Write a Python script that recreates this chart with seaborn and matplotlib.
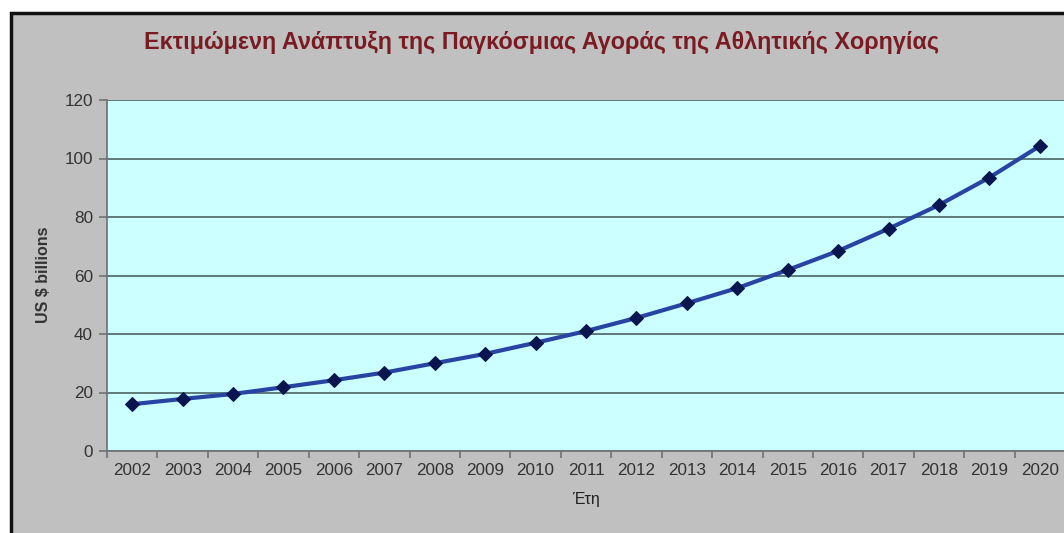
import matplotlib
matplotlib.use("Agg")
import matplotlib.pyplot as plt
import seaborn as sns
import pandas as pd
from matplotlib.patches import Rectangle
from matplotlib.ticker import FixedLocator

years = list(range(2002, 2021))
values = [16.0, 17.8, 19.5, 21.8, 24.2, 26.8, 30.0, 33.2, 37.0, 41.0,
          45.5, 50.5, 55.7, 61.9, 68.4, 76.0, 84.1, 93.5, 104.3]
title = "Εκτιμώμενη Ανάπτυξη της Παγκόσμιας Αγοράς της Αθλητικής Χορηγίας"
xlabel = "Έτη"
ylabel = "US $ billions"

df = pd.DataFrame({"year": years, "value": values})

sns.set_theme(style="white")
plt.rcParams['font.family'] = ['Liberation Sans', 'DejaVu Sans']

W, H = 1064, 533
fig = plt.figure(figsize=(W / 100, H / 100), dpi=100)
fig.patch.set_facecolor("white")
# outer chart frame (gray with black border)
frame = Rectangle((11 / W, -0.05), 1.1, (H - 13) / H + 0.05,
                  transform=fig.transFigure, facecolor="#c0c0c0",
                  edgecolor="#111111", linewidth=2.5, zorder=-10)
fig.patches.append(frame)

ax = fig.add_axes([107 / W, (H - 451) / H, (W - 107) / W + 0.001, (451 - 100) / H])
ax.set_zorder(1)
ax.set_facecolor("#ccffff")

sns.lineplot(data=df, x="year", y="value", ax=ax, color="#2744a3", linewidth=3,
             marker="D", markersize=7, markerfacecolor="#0b1550",
             markeredgecolor="#0b1550", zorder=3)

ax.set_xlim(2001.5, 2020.5)
ax.set_ylim(0, 120)
ax.set_yticks(range(0, 121, 20))
ax.set_xticks(years)
ax.set_xticklabels([str(y) for y in years])
ax.xaxis.set_minor_locator(FixedLocator([y + 0.5 for y in range(2001, 2021)]))

ax.grid(axis="y", color="#4a6464", linewidth=1.2)
ax.grid(axis="x", visible=False)
ax.set_axisbelow(True)

for s in ["top", "right"]:
    ax.spines[s].set_visible(False)
for s in ["left", "bottom"]:
    ax.spines[s].set_color("#707070")
    ax.spines[s].set_linewidth(1.2)

ax.tick_params(axis="x", which="major", length=0, pad=8.5, labelsize=12.3, labelcolor="#333333")
ax.tick_params(axis="x", which="minor", length=5, width=1.2, color="#707070", bottom=True)
ax.tick_params(axis="y", which="major", length=6, width=1.2, color="#707070", left=True,
               pad=4, labelsize=12.3, labelcolor="#333333")

ax.set_xlabel(xlabel, fontsize=11.5, color="#222222", labelpad=10)
ax.set_ylabel("")
fig.text(43 / W, 1 - 275 / H, ylabel, rotation=90, ha="center", va="center",
         fontsize=11.5, fontweight="bold", color="#333333")

fig.text(541 / W, 1 - 42 / H, title, ha="center", va="center", fontsize=16.8,
         fontweight="bold", color="#7a1a22")

fig.savefig("out.png", dpi=100, facecolor=fig.get_facecolor())
